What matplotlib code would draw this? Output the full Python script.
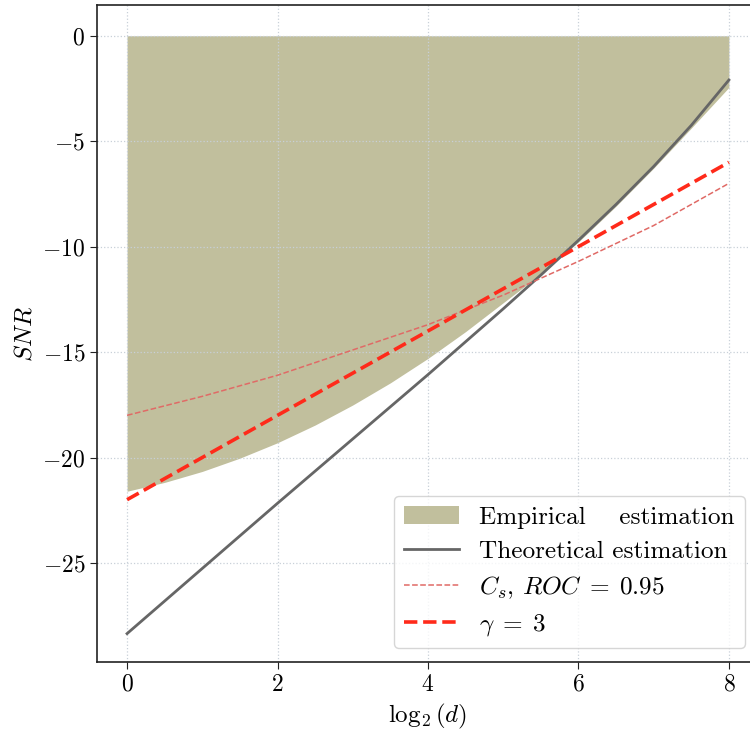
import numpy as np
import matplotlib
matplotlib.use("Agg")
from matplotlib import pyplot as plt

plt.rcParams["font.family"] = "serif"
plt.rcParams["font.serif"] = ["cmr10", "DejaVu Serif"]
plt.rcParams["mathtext.fontset"] = "cm"
plt.rcParams["axes.formatter.use_mathtext"] = True

# log2(d) positions
x_int = [0, 1, 2, 3, 4, 5, 6, 7, 8]
x_half = [0, 0.5, 1, 1.5, 2, 2.5, 3, 3.5, 4, 4.5, 5, 5.5, 6, 6.5, 7, 7.5, 8]

# lower edge of the empirical region (upper edge is 0)
empirical_low = [-21.6, -21.18, -20.66, -20.03, -19.3, -18.46, -17.51, -16.46, -15.3,
                 -14.03, -12.66, -11.3, -9.78, -8.08, -6.28, -4.38, -2.45]
theoretical_x = [0, 1, 2, 3, 4, 5, 5.5, 6, 6.5, 7, 7.5, 8]
theoretical = [-28.35, -25.26, -22.17, -19.12, -16.07, -12.95, -11.35, -9.7,
               -8.0, -6.2, -4.25, -2.1]
cs_roc = [-18.0, -17.1, -16.1, -14.9, -13.7, -12.3, -10.7, -9.0, -7.0]
gamma3 = [-22.0, -20.0, -18.0, -16.0, -14.0, -12.0, -10.0, -8.0, -6.0]

fig = plt.figure(figsize=(7.5, 7.34), dpi=100)
ax = fig.add_axes([0.1293, 0.098, 0.8827, 0.895])

ax.fill_between(x_half, empirical_low, np.zeros(len(x_half)), color="#c1bf9d",
                linewidth=0, label="Empirical    estimation")
ax.plot(theoretical_x, theoretical, color="#666666", lw=2, label="Theoretical estimation")
ax.plot(x_int, cs_roc, color="#e06a66", lw=1.1, ls="--",
        label=r"$C_s,\, ROC\;=\;0.95$")
ax.plot(x_int, gamma3, color="#ff2a1a", lw=2.6, ls="--", label=r"$\gamma\;=\;3$")

ax.set_xlim(-0.4, 8.4)
ax.set_ylim(-29.7, 1.45)
ax.set_yticks([0, -5, -10, -15, -20, -25])
ax.set_xticks([0, 2, 4, 6, 8])
ax.grid(True, ls=":", color="#c8d0d8", lw=0.9)
ax.tick_params(labelsize=17, direction="out", length=5, color="#222222")
for s in ax.spines.values():
    s.set_color("#222222")
    s.set_linewidth(1.2)

ax.set_xlabel(r"$\log_2(d)$", fontsize=18)
ax.set_ylabel(r"$SNR$", fontsize=18)

ax.legend(loc="lower right", bbox_to_anchor=(0.979, 0.021), borderaxespad=0,
          fontsize=18.2, handlelength=2.2, labelspacing=0.45,
          framealpha=0.8, edgecolor="#cccccc")

fig.savefig("out.png", dpi=100)
